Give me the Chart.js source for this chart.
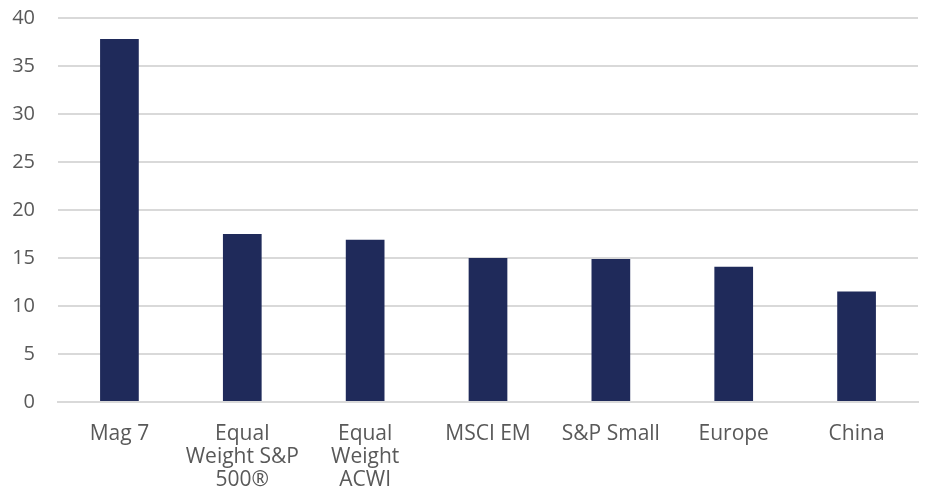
<!DOCTYPE html>
<html>
<head>
<meta charset="utf-8">
<script src="https://cdn.jsdelivr.net/npm/chart.js@4"></script>
<style>
  html, body { margin: 0; padding: 0; background: #fff; }
  #wrap { width: 926px; height: 501px; position: relative; }
</style>
</head>
<body>
<div id="wrap"><canvas id="chart"></canvas></div>
<script>
const categories = [
  "Mag 7",
  ["Equal", "Weight S&P", "500®"],
  ["Equal", "Weight", "ACWI"],
  "MSCI EM",
  "S&P Small",
  "Europe",
  "China"
];
const values = [37.8, 17.5, 16.9, 15.0, 14.9, 14.1, 11.5];
const yTicks = [0, 5, 10, 15, 20, 25, 30, 35, 40];

const ctx = document.getElementById("chart").getContext("2d");

new Chart(ctx, {
  type: "bar",
  data: {
    labels: categories,
    datasets: [{
      data: values,
      backgroundColor: "#1F2A5A",
      borderWidth: 0,
      barPercentage: 0.315,
      categoryPercentage: 1
    }]
  },
  options: {
    responsive: true,
    maintainAspectRatio: false,
    animation: false,
    layout: { padding: { top: 18, right: 8, left: 0, bottom: 0 } },
    plugins: {
      legend: { display: false },
      tooltip: { enabled: false }
    },
    scales: {
      x: {
        grid: { display: false, drawTicks: false },
        border: { display: true, color: "#D9D9D9", width: 2 },
        ticks: {
          color: "#595959",
          font: { family: "Open Sans", size: 21, lineHeight: 1.1 },
          padding: 20,
          maxRotation: 0,
          autoSkip: false
        },
        afterFit: (scale) => {
          scale.height = 99;
          scale.paddingLeft = 0;
          scale.paddingRight = 0;
        }
      },
      y: {
        min: 0,
        max: 40,
        afterBuildTicks: (scale) => { scale.ticks = yTicks.map(v => ({ value: v })); },
        grid: { color: "#D9D9D9", lineWidth: 2, drawTicks: false },
        border: { display: false },
        ticks: {
          color: "#595959",
          font: { family: "Open Sans", size: 20 },
          padding: 23
        },
        afterFit: (scale) => {
          scale.width = 58;
          scale.paddingTop = 0;
          scale.paddingBottom = 0;
        }
      }
    }
  }
});
</script>
</body>
</html>
